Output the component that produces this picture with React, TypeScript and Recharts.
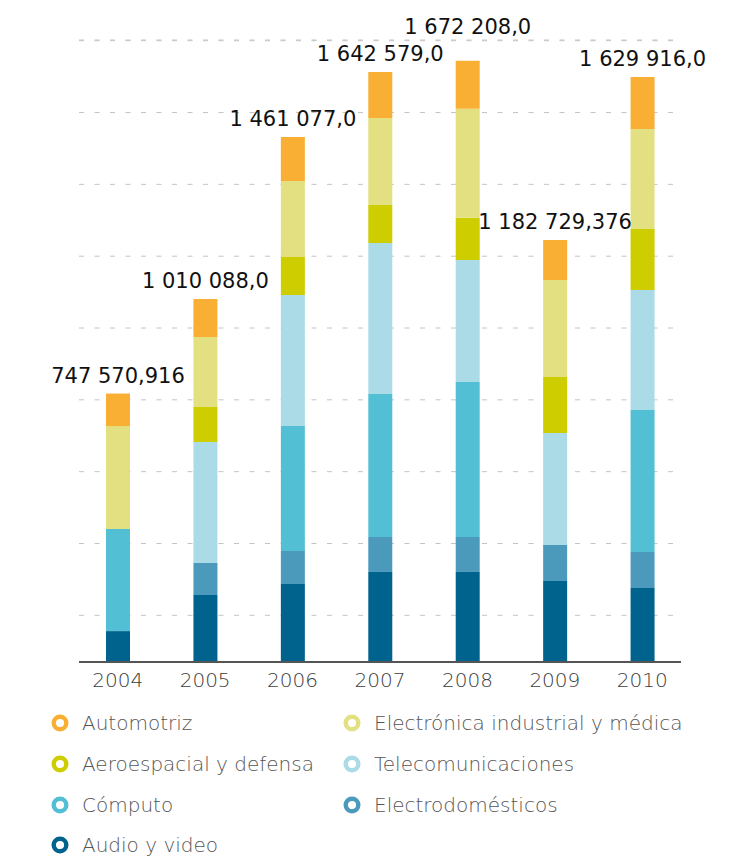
import { Bar, BarChart, CartesianGrid, LabelList, XAxis, YAxis } from "recharts";

const years = ["2004", "2005", "2006", "2007", "2008", "2009", "2010"];
const totals = ["747 570,916", "1 010 088,0", "1 461 077,0", "1 642 579,0", "1 672 208,0", "1 182 729,376", "1 629 916,0"];

const audioVideo = [86000, 186600, 217200, 250700, 250700, 225600, 206100];
const electrodomesticos = [0, 89100, 91900, 97500, 97500, 100300, 100300];
const computo = [284100, 0, 348100, 398300, 431700, 0, 395500];
const telecomunicaciones = [0, 337000, 364800, 420500, 339800, 311900, 334200];
const aeroespacial = [0, 97500, 105800, 105800, 117000, 156000, 169900];
const electronica = [286900, 195000, 211700, 242300, 303600, 270100, 278500];
const automotriz = [90500, 105800, 122500, 128100, 133700, 111400, 144800];

// dashed guide lines of the original sit on an offset grid
const gridTicks = [130000, 330000, 530000, 730000, 930000, 1130000, 1330000, 1530000, 1730000];
const yMax = 1732000;

// bottom to top of each stack
const series = [
  { key: "audio", name: "Audio y video", color: "#00638d", values: audioVideo },
  { key: "electrodom", name: "Electrodomésticos", color: "#4b9abc", values: electrodomesticos },
  { key: "computo", name: "Cómputo", color: "#53bfd4", values: computo },
  { key: "telecom", name: "Telecomunicaciones", color: "#abdbe6", values: telecomunicaciones },
  { key: "aero", name: "Aeroespacial y defensa", color: "#cdcd00", values: aeroespacial },
  { key: "electronica", name: "Electrónica industrial y médica", color: "#e2e080", values: electronica },
  { key: "auto", name: "Automotriz", color: "#f9af33", values: automotriz },
];

// legend is read row by row, two columns
const legendOrder = ["auto", "electronica", "aero", "telecom", "computo", "electrodom", "audio"];

const data = years.map((year, i) => {
  const row: Record<string, string | number> = { year, total: totals[i] };
  series.forEach((s) => {
    row[s.key] = s.values[i];
  });
  return row;
});

const font = "'DejaVu Sans', sans-serif";

const TotalLabel = (props: any) => {
  const { x, y, width, value, index } = props;
  // the 2008 label is lifted so it clears its neighbour
  const lift = years[index] === "2008" ? 27 : 11;
  return (
    <text x={x + width / 2} y={y - lift} textAnchor="middle" fontFamily={font} fontSize={21} fill="#111">
      {value}
    </text>
  );
};

const LegendBlock = () => (
  <div
    style={{
      position: "absolute",
      left: 51,
      top: 703,
      display: "grid",
      gridTemplateColumns: "292px 360px",
      gridAutoRows: "40.7px",
      fontFamily: font,
      fontSize: 20,
      color: "#555",
    }}
  >
    {legendOrder.map((k) => {
      const s = series.find((d) => d.key === k)!;
      return (
        <div key={k} style={{ display: "flex", alignItems: "center" }}>
          <svg width={18} height={18} style={{ marginRight: 13, flexShrink: 0 }}>
            <circle cx={9} cy={9} r={6.3} fill="#fff" stroke={s.color} strokeWidth={4.4} />
          </svg>
          <span style={{ fontWeight: 300, whiteSpace: "nowrap" }}>{s.name}</span>
        </div>
      );
    })}
  </div>
);

export default function App() {
  return (
    <div style={{ position: "absolute", left: 0, top: 0, width: 747, height: 857, background: "#fff" }}>
      <BarChart
        width={747}
        height={700}
        data={data}
        margin={{ top: 40, right: 66, left: 79, bottom: 8 }}
        barSize={24}
      >
        <CartesianGrid
          vertical={false}
          stroke="#c4c4c4"
          strokeDasharray="5 10.5"
        />
        <XAxis
          dataKey="year"
          height={30}
          padding={{ left: -5, right: -5 }}
          tickLine={false}
          tickMargin={5}
          axisLine={{ stroke: "#555", strokeWidth: 2 }}
          tick={{ fill: "#3c3c3c", fontSize: 20, fontFamily: font, fontWeight: 300 }}
        />
        <YAxis hide domain={[0, yMax]} ticks={gridTicks} allowDataOverflow />
        {series.map((s) => (
          <Bar key={s.key} dataKey={s.key} name={s.name} stackId="a" fill={s.color} isAnimationActive={false}>
            {s.key === "auto" && <LabelList dataKey="total" content={TotalLabel} />}
          </Bar>
        ))}
      </BarChart>
      <LegendBlock />
    </div>
  );
}
